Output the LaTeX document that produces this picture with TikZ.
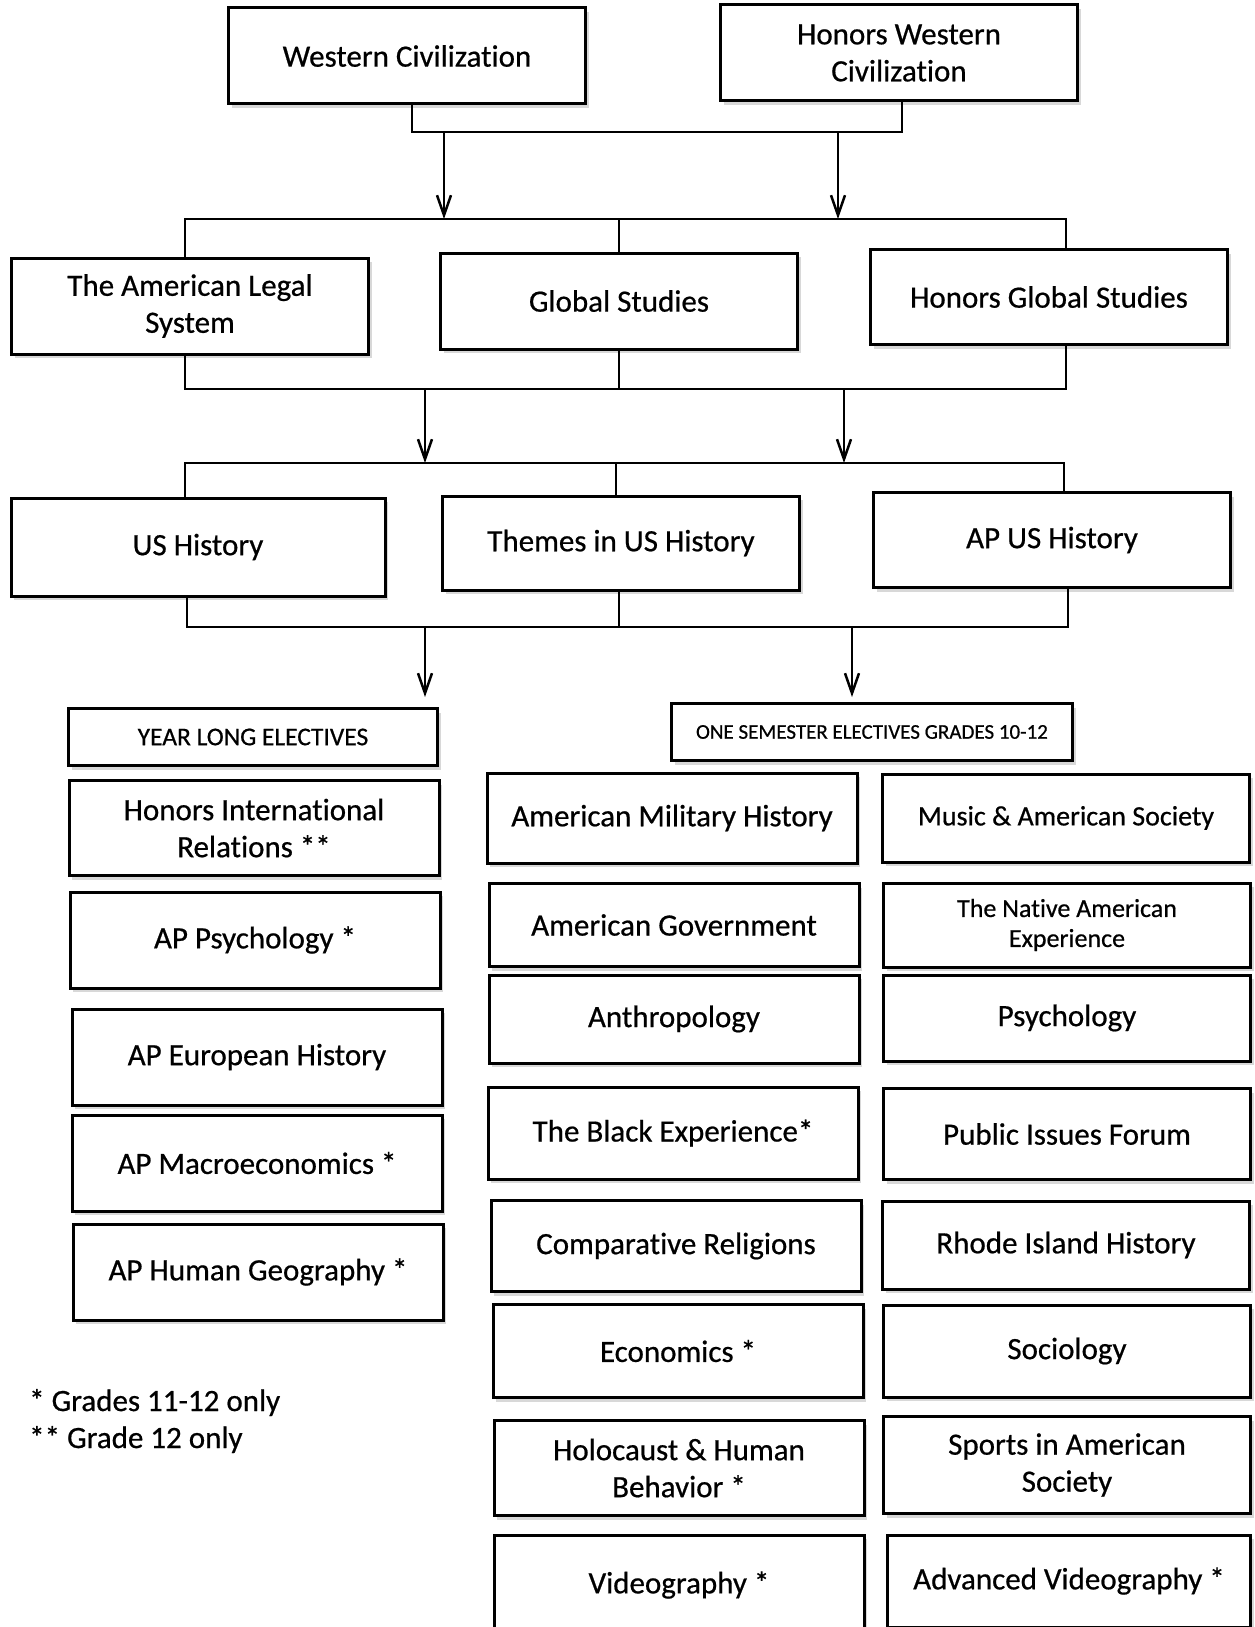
\documentclass[tikz,border=0pt]{standalone}
\usepackage{fontspec}
\setmainfont{Carlito}[Ligatures=NoCommon, FakeBold=0.6, BoldFont=Carlito]
\usetikzlibrary{arrows.meta,shadows}

\begin{document}
\begin{tikzpicture}[x=1pt, y=-1pt,
	box/.style = {draw, line width=3pt, fill=white, align=center, inner sep=0pt,
		minimum width=357pt, minimum height=96pt, font=\fontsize{31}{37}\selectfont\bfseries,
		drop shadow={shadow xshift=3pt, shadow yshift=-4pt, fill=black!30}},
	elective/.style = {box, minimum width=370pt, minimum height=90pt},
	head/.style = {box, minimum height=57pt},
	link/.style = {line width=2.5pt},
	arrow/.style = {link, -{Straight Barb[length=20pt, width=14pt]}}]
	\useasboundingbox (0,0) rectangle (1254,1627);

	% courses
	\node[box] (wc) at (407,56) {Western Civilization};
	\node[box] (hwc) at (899,53) {Honors Western\\Civilization};
	\node[box] (als) at (190,306) {The American Legal\\System};
	\node[box] (gs) at (619,301) {Global Studies};
	\node[box, minimum height=95pt] (hgs) at (1049,297) {Honors Global Studies};
	\node[box, minimum width=374pt, minimum height=98pt] (ush) at (198,547) {US History};
	\node[box, minimum height=94pt] (tus) at (621,543) {Themes in US History};
	\node[box, minimum height=95pt] (apus) at (1052,540) {AP US History};

	% electives
	\node[head, minimum width=369pt, font=\fontsize{25.5}{30}\selectfont\bfseries] (yle) at (253,737) {YEAR LONG ELECTIVES};
	\node[head, minimum width=401pt, font=\fontsize{21}{25}\selectfont\bfseries] (ose) at (872,732) {ONE SEMESTER ELECTIVES GRADES 10-12};

	\node[elective, minimum height=95pt] (hir) at (254,828) {Honors International\\Relations **};
	\node[elective, minimum height=96pt] (appsy) at (255,940) {AP Psychology *};
	\node[elective, minimum height=96pt] (apeu) at (257,1057) {AP European History};
	\node[elective, minimum height=96pt] (apmac) at (257,1163) {AP Macroeconomics *};
	\node[elective, minimum height=96pt] (aphg) at (258,1272) {AP Human Geography *};

	\node[elective] (amh) at (672,818) {American Military History};
	\node[elective, minimum height=83pt] (amgov) at (674,925) {American Government};
	\node[elective, minimum height=88pt] (anth) at (674,1019) {Anthropology};
	\node[elective, minimum height=92pt] (blk) at (673,1133) {The Black Experience*};
	\node[elective, minimum height=91pt] (crel) at (676,1246) {Comparative Religions};
	\node[elective, minimum height=93pt] (econ) at (678,1351) {Economics *};
	\node[elective, minimum height=95pt] (holo) at (679,1468) {Holocaust \& Human\\Behavior *};
	\node[elective, minimum height=100pt] (vid) at (679,1585) {Videography *};

	\node[elective, minimum width=367pt, minimum height=88pt, font=\fontsize{28}{34}\selectfont\bfseries] (mus) at (1066,818) {Music \& American Society};
	\node[elective, minimum width=367pt, minimum height=84pt, font=\fontsize{26}{30}\selectfont\bfseries] (nat) at (1067,925) {The Native American\\Experience};
	\node[elective, minimum width=367pt, minimum height=86pt] (psy) at (1067,1018) {Psychology};
	\node[elective, minimum width=367pt, minimum height=91pt] (pif) at (1067,1134) {Public Issues Forum};
	\node[elective, minimum width=367pt, minimum height=88pt] (rih) at (1066,1245) {Rhode Island History};
	\node[elective, minimum width=367pt, minimum height=92pt] (soc) at (1067,1351) {Sociology};
	\node[elective, minimum width=367pt, minimum height=97pt] (spo) at (1067,1465) {Sports in American\\Society};
	\node[elective, minimum width=363pt, minimum height=92pt] (avid) at (1069,1581) {Advanced Videography *};

	\node[anchor=west, align=left, inner sep=0pt, font=\fontsize{31}{37}\selectfont\bfseries] (notes) at (29,1421) {* Grades 11-12 only\\** Grade 12 only};

	% joins and arrows
	\coordinate (bar1) at (0,132);
	\coordinate (bar2) at (0,219);
	\coordinate (bar3) at (0,389);
	\coordinate (bar4) at (0,463);
	\coordinate (bar5) at (0,627);
	\coordinate (a1) at (444,132);
	\coordinate (a2) at (838,132);
	\coordinate (a3) at (425,389);
	\coordinate (a4) at (844,389);
	\coordinate (a5) at (425,627);
	\coordinate (a6) at (852,627);
	\coordinate (t5) at (425,697);
	\coordinate (t6) at (852,697);

	\draw[link] ([xshift=5pt]wc.south) |- ([xshift=3pt]hwc.south |- bar1) -- ([xshift=3pt]hwc.south);
	\draw[arrow] (a1) -- (a1 |- bar2);
	\draw[arrow] (a2) -- (a2 |- bar2);

	\draw[link] ([xshift=-5pt]als.north) |- ([xshift=17pt]hgs.north |- bar2) -- ([xshift=17pt]hgs.north);
	\draw[link] (gs.north) -- (gs.north |- bar2);
	\draw[link] ([xshift=-5pt]als.south) |- ([xshift=17pt]hgs.south |- bar3) -- ([xshift=17pt]hgs.south);
	\draw[link] (gs.south) -- (gs.south |- bar3);
	\draw[arrow] (a3) -- (a3 |- bar4);
	\draw[arrow] (a4) -- (a4 |- bar4);

	\draw[link] ([xshift=-13pt]ush.north) |- ([xshift=12pt]apus.north |- bar4) -- ([xshift=12pt]apus.north);
	\draw[link] ([xshift=-5pt]tus.north) -- ([xshift=-5pt]tus.north |- bar4);
	\draw[link] ([xshift=-11pt]ush.south) |- ([xshift=16pt]apus.south |- bar5) -- ([xshift=16pt]apus.south);
	\draw[link] ([xshift=-2pt]tus.south) -- ([xshift=-2pt]tus.south |- bar5);
	\draw[arrow] (a5) -- (t5);
	\draw[arrow] (a6) -- (t6);

\end{tikzpicture}
\end{document}
